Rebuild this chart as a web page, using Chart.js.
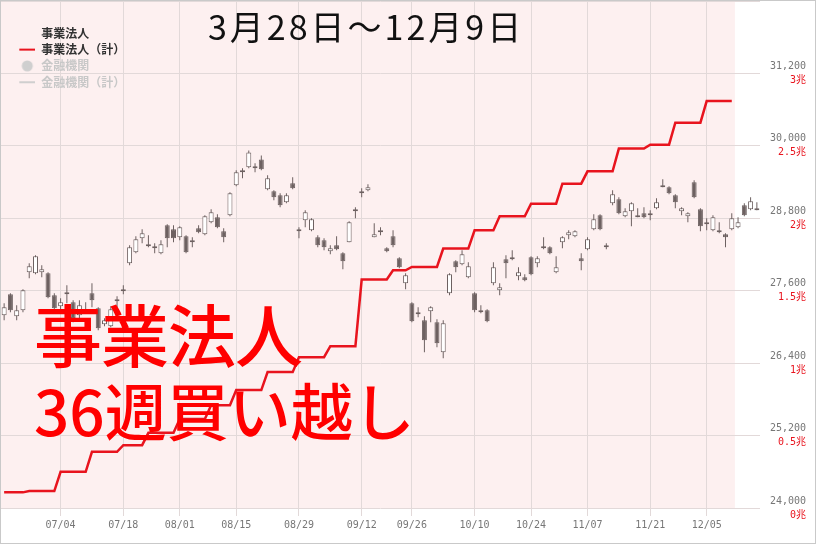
<!DOCTYPE html>
<html><head><meta charset="utf-8">
<script src="https://cdn.jsdelivr.net/npm/chart.js@4.4.1/dist/chart.umd.min.js"></script>
<style>
html,body{margin:0;padding:0;background:#fff;}
#wrap{position:relative;width:814px;height:542px;border:1px solid #c9c9c9;}
#c{display:block;}
.title{position:absolute;left:207px;top:5px;font-family:"Noto Sans CJK JP";font-size:34px;line-height:40px;letter-spacing:3px;color:#111;white-space:nowrap;}
.note{position:absolute;left:33px;font-family:"Noto Sans CJK JP";color:#ff0000;white-space:nowrap;font-weight:500;}
.n1{top:290px;font-size:68px;line-height:84px;letter-spacing:-1px;}
.n2{top:373px;font-size:62px;line-height:70px;}
</style></head><body>
<div id="wrap"><canvas id="c" width="814" height="542"></canvas>
<div class="title">3月28日～12月9日</div>
<div class="note n1">事業法人</div>
<div class="note n2">36週買い越し</div>
</div>
<script>
// ---- data ----
const dates = [
'06/21','06/22','06/23','06/24','06/27','06/28','06/29','06/30','07/01',
'07/04','07/05','07/06','07/07','07/08','07/11','07/12','07/13','07/14','07/15',
'07/19','07/20','07/21','07/22','07/25','07/26','07/27','07/28','07/29',
'08/01','08/02','08/03','08/04','08/05','08/08','08/09','08/10','08/12',
'08/15','08/16','08/17','08/18','08/19','08/22','08/23','08/24','08/25','08/26',
'08/29','08/30','08/31','09/01','09/02','09/05','09/06','09/07','09/08','09/09',
'09/12','09/13','09/14','09/15','09/16','09/20','09/21','09/22',
'09/26','09/27','09/28','09/29','09/30','10/03','10/04','10/05','10/06','10/07',
'10/11','10/12','10/13','10/14','10/17','10/18','10/19','10/20','10/21',
'10/24','10/25','10/26','10/27','10/28','10/31','11/01','11/02','11/04',
'11/07','11/08','11/09','11/10','11/11','11/14','11/15','11/16','11/17','11/18',
'11/21','11/22','11/24','11/25','11/28','11/29','11/30','12/01','12/02',
'12/05','12/06','12/07','12/08','12/09','12/12','12/13','12/14','12/15'
];
const open = [
27194,27542,27178,27277,27906,27889,27906,27889,27525,
27343,27542,27409,27194,27260,27558,27310,27045,27012,27426,
27592,28055,28237,28469,28353,28303,28221,28684,28618,
28485,28502,28403,28634,28535,28733,28816,28585,28850,
29346,29561,29644,29644,29776,29280,29247,29181,29065,29379,
28585,28767,28601,28485,28435,28254,28353,28221,28403,28916,
29214,29263,28485,28568,28303,28502,28138,27724,
27393,27227,27111,27260,27078,26582,27558,28088,28038,27823,
27558,27244,27277,27724,27608,28121,28121,27840,27823,
28154,28055,28303,28320,27906,28403,28519,28502,28138,
28287,28618,28850,28320,29048,29114,28833,28916,28816,28883,
28883,28966,29313,29313,29181,28916,28833,29396,28949,
28700,28601,28568,28535,28618,28651,29016,28949,28932
];
const high = [
27393,27558,27360,27625,28055,28187,28022,27906,27558,
27476,27691,27443,27443,27409,27724,27327,27145,27343,27509,
27691,28353,28502,28618,28519,28386,28435,28700,28684,
28667,28519,28485,28684,28850,28949,28866,28634,29230,
29594,29627,29925,29710,29842,29512,29263,29214,29214,29479,
28651,28932,28800,28519,28469,28353,28502,28237,28750,28982,
29296,29362,28717,28651,28320,28601,28154,27889,
27409,27327,27178,27343,27128,27111,27889,28105,28270,28072,
27575,27360,27293,28072,27724,28187,28270,27989,27873,
28171,28171,28485,28336,28171,28502,28601,28601,28221,
28485,28866,28866,28386,29263,29148,28965,29065,28965,28982,
28932,29131,29445,29329,29197,28982,28899,29429,28966,
28800,28850,28733,28552,28883,28816,29048,29148,29065
];
const low = [
27111,27244,27111,27244,27807,27873,27823,27476,27277,
27244,27393,27078,27145,27227,27327,26946,27012,26995,27327,
27542,28022,28221,28386,28320,28221,28204,28320,28403,
28435,28221,28320,28552,28519,28717,28634,28403,28833,
29329,29462,29627,29561,29594,29263,29098,28982,29048,29280,
28469,28651,28585,28320,28270,28204,28270,27956,28403,28800,
29148,29247,28485,28519,28237,28320,27972,27625,
27078,27161,26582,27078,26665,26482,27525,27906,28022,27807,
27244,27227,27078,27691,27525,27807,28105,27774,27757,
27856,27989,28287,28204,27889,28303,28452,28485,27939,
28270,28601,28601,28287,29016,28866,28816,28667,28816,28800,
28767,28949,29313,29197,28966,28850,28733,29131,28585,
28601,28585,28552,28320,28601,28634,28833,28932,28932
];
const close = [
27327,27277,27277,27608,28005,28171,27956,27492,27310,
27409,27575,27145,27360,27244,27442,26979,27111,27293,27459,
27625,28320,28452,28552,28336,28320,28369,28469,28469,
28651,28237,28419,28568,28833,28899,28651,28485,29214,
29561,29578,29892,29627,29611,29462,29148,29016,29181,29296,
28601,28899,28783,28353,28320,28303,28287,28088,28733,28932,
29230,29313,28535,28601,28254,28353,27989,27856,
27095,27211,26780,27327,26731,27062,27873,27989,28204,28005,
27277,27277,27095,27989,27658,28055,28154,27906,27774,
27873,28138,28320,28221,27989,28485,28568,28585,28088,
28452,28783,28618,28336,29197,28883,28916,29048,28833,28816,
28850,29065,29329,29214,29065,28966,28883,29148,28667,
28733,28816,28585,28485,28800,28733,28850,29081,28949
];
// 事業法人（計）: cumulative net buying (兆円) per week, keyed by first trading day of week
const weekStarts = ['06/21','06/27','07/04','07/11','07/19','07/25','08/01','08/08','08/15','08/22',
  '08/29','09/05','09/12','09/20','09/26','10/03','10/11','10/17','10/24','10/31',
  '11/07','11/14','11/21','11/28','12/05'];
const weeklyCum = [0.108,0.117,0.250,0.388,0.434,0.519,0.614,0.710,0.814,0.938,
  1.041,1.117,1.577,1.641,1.664,1.791,1.917,2.014,2.101,2.239,
  2.324,2.481,2.508,2.660,2.809];
const lastDataDay = '12/09';
const xTickAt   = ['07/04','07/19','08/01','08/15','08/29','09/12','09/26','10/11','10/24','11/07','11/21','12/05'];
const xTickText = ['07/04','07/18','08/01','08/15','08/29','09/12','09/26','10/10','10/24','11/07','11/21','12/05'];
const legendNames = ['事業法人','事業法人（計）','金融機関','金融機関（計）'];

// ---- build tables for the library ----
const CANDLE = '#6d6161';
const RED = '#e8141e';
const GRID = '#e2d9d9';
const wIdx = weekStarts.map(d => dates.indexOf(d));
const endIdx = dates.indexOf(lastDataDay);
const cumLine = dates.map((d, i) => {
  if (i > endIdx) return null;
  let w = 0;
  wIdx.forEach((s, k) => { if (s <= i) w = k; });
  return weeklyCum[w];
});
const bodies = dates.map((d, i) => [open[i], close[i]]);
const wicks = dates.map((d, i) => [low[i], high[i]]);

function mark(kind, color) {
  const c = document.createElement('canvas');
  c.width = 30; c.height = 12;
  const g = c.getContext('2d');
  if (kind === 'line') {
    g.fillStyle = color; g.fillRect(14, 5, 16, 2);
  } else if (kind === 'dot') {
    g.fillStyle = color; g.beginPath(); g.arc(22, 6, 5.5, 0, Math.PI * 2); g.fill();
  }
  return c;
}
const legendMarks = [mark('none'), mark('line', RED), mark('dot', '#cfcfcf'), mark('line', '#cfcfcf')];
const legendColors = ['#333333', '#333333', '#c8c8c8', '#c8c8c8'];

const bgPlugin = {
  id: 'pinkArea',
  beforeDraw(chart) {
    const {ctx, chartArea: a, scales: {x}} = chart;
    const half = (x.getPixelForValue(1) - x.getPixelForValue(0)) / 2;
    const end = x.getPixelForValue(endIdx) + half;
    ctx.save();
    ctx.fillStyle = '#fdf0f0';
    ctx.fillRect(a.left, a.top, end - a.left, a.bottom - a.top);
    ctx.restore();
  }
};

const mono = 'DejaVu Sans Mono, Noto Sans CJK JP, monospace';
const fmt = v => String(v).replace(/\B(?=(\d{3})+(?!\d))/g, ',');
const noPad = s => { s.paddingTop = 0; s.paddingBottom = 0; s.paddingLeft = 0; s.paddingRight = 0; };

new Chart(document.getElementById('c'), {
  type: 'bar',
  data: {
    labels: dates,
    datasets: [
      { type: 'line', label: '事業法人（計）', data: cumLine, yAxisID: 'y2', borderColor: RED, borderWidth: 2.5,
        pointRadius: 0, tension: 0, spanGaps: false, order: 0 },
      { type: 'bar', label: '事業法人', data: bodies, yAxisID: 'y',
        backgroundColor: c => close[c.dataIndex] > open[c.dataIndex] ? '#ffffff' : CANDLE,
        borderColor: CANDLE, borderWidth: 1, borderSkipped: false, barThickness: 5, minBarLength: 2,
        grouped: false, inflateAmount: 0, order: 1 },
      { type: 'bar', label: 'wick', data: wicks, yAxisID: 'y', backgroundColor: CANDLE, borderWidth: 0,
        barThickness: 1, grouped: false, inflateAmount: 0, order: 2 }
    ]
  },
  options: {
    responsive: false,
    animation: false,
    devicePixelRatio: 1,
    layout: { padding: 0 },
    scales: {
      x: {
        type: 'category', offset: true,
        grid: { offset: false, color: GRID, tickLength: 8, drawTicks: true },
        border: { display: false },
        ticks: { autoSkip: false, maxRotation: 0, padding: 3, color: '#777', font: { family: mono, size: 10 },
          callback: (v, i) => xTickText[i] },
        afterBuildTicks: s => { s.ticks = xTickAt.map(d => ({ value: dates.indexOf(d) })); },
        afterFit: s => { s.height = 35; noPad(s); }
      },
      y: {
        position: 'right', min: 24000, max: 32400, weight: 0,
        grid: { color: GRID, drawTicks: false },
        border: { display: false },
        ticks: { stepSize: 1200, padding: 10, labelOffset: -7, color: '#777', font: { family: mono, size: 10 },
          callback: v => v >= 32400 ? '' : fmt(v) },
        afterFit: s => { s.width = 55; noPad(s); }
      },
      y2: {
        position: 'right', min: 0, max: 3.5, weight: 1,
        grid: { display: false, drawTicks: false },
        border: { display: false },
        ticks: { stepSize: 0.5, mirror: true, padding: -9, labelOffset: 7, color: '#e8141e',
          font: { family: mono, size: 10 }, callback: v => v >= 3.5 ? '' : v + '兆' },
        afterFit: s => { s.width = 0; noPad(s); }
      }
    },
    plugins: {
      tooltip: { enabled: false },
      title: { display: false },
      legend: {
        position: 'chartArea', align: 'start',
        title: { display: true, text: '', padding: { top: 5, bottom: 5 }, font: { size: 10 } },
        labels: {
          usePointStyle: true, pointStyleWidth: 30, padding: 4.3,
          font: { family: 'Noto Sans CJK JP', size: 12, weight: 'bold' },
          generateLabels: () => legendNames.map((t, i) => ({
            text: t, fontColor: legendColors[i], pointStyle: legendMarks[i], lineWidth: 0,
            fillStyle: 'rgba(0,0,0,0)', strokeStyle: 'rgba(0,0,0,0)', hidden: false, datasetIndex: 0
          }))
        },
        onClick: () => {}
      }
    }
  },
  plugins: [bgPlugin]
});
</script>
</body></html>
